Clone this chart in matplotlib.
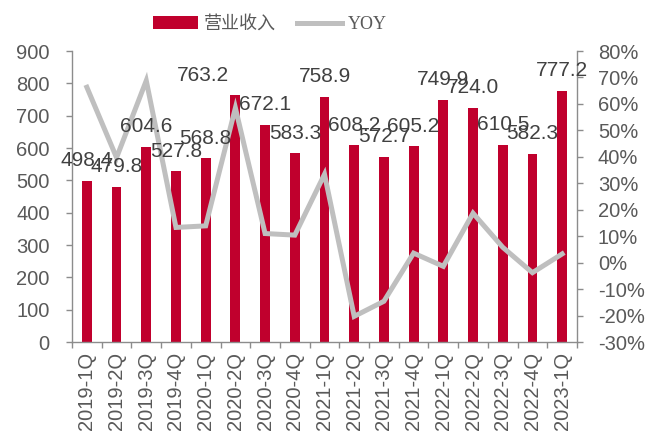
import numpy as np
import matplotlib.pyplot as plt
from matplotlib.patches import Patch
from matplotlib.lines import Line2D

plt.rcParams['font.family'] = ['Liberation Sans', 'DejaVu Sans']

quarters = ['2019-1Q', '2019-2Q', '2019-3Q', '2019-4Q', '2020-1Q', '2020-2Q',
            '2020-3Q', '2020-4Q', '2021-1Q', '2021-2Q', '2021-3Q', '2021-4Q',
            '2022-1Q', '2022-2Q', '2022-3Q', '2022-4Q', '2023-1Q']
revenue = [498.4, 479.8, 604.6, 527.8, 568.8, 763.2, 672.1, 583.3, 758.9,
           608.2, 572.7, 605.2, 749.9, 724.0, 610.5, 582.3, 777.2]
yoy = [66.3, 39.7, 68.8, 13.3, 13.9, 58.5, 11.0, 10.4, 33.4,
       -20.3, -14.6, 3.6, -1.4, 18.7, 5.8, -3.8, 3.3]

BAR_RED = '#C0002D'
LINE_GREY = '#BFBFBF'
AXIS_GREY = '#8C8C8C'
TEXT_GREY = '#595959'

fig = plt.figure(figsize=(6.49, 4.37), dpi=100)
ax = fig.add_axes([72 / 649, 1 - 342 / 437, 505 / 649, 291 / 437])
ax2 = ax.twinx()

x = np.arange(len(quarters))
ax.bar(x, revenue, width=0.33, color=BAR_RED, zorder=2)
ax2.plot(x, yoy, color=LINE_GREY, linewidth=3.6, solid_joinstyle='miter', zorder=3)

ax.set_xlim(-0.5, len(quarters) - 0.5)
ax.set_ylim(0, 900)
ax.set_yticks(np.arange(0, 901, 100))
ax2.set_ylim(-30, 80)
ax2.set_yticks(np.arange(-30, 81, 10))
ax2.set_yticklabels([f'{v}%' for v in range(-30, 81, 10)])

# category labels sit between the boundary tick marks
ax.set_xticks(np.arange(-0.5, len(quarters), 1.0))
ax.set_xticklabels([])
ax.set_xticks(x, minor=True)
ax.set_xticklabels(quarters, minor=True, rotation=90)
ax.tick_params(axis='x', which='minor', length=0, pad=7, labelsize=14.5, labelcolor=TEXT_GREY)
ax.tick_params(axis='x', which='major', length=4, width=1, color=AXIS_GREY, direction='out')
ax.tick_params(axis='y', length=4, width=1, color=AXIS_GREY, pad=12, labelsize=14.5,
               labelcolor=TEXT_GREY)
ax2.tick_params(axis='y', length=4, width=1, color=AXIS_GREY, pad=11, labelsize=14.5,
                labelcolor=TEXT_GREY)

for a in (ax, ax2):
    a.spines['top'].set_visible(False)
    for side in ('left', 'right', 'bottom'):
        a.spines[side].set_color(AXIS_GREY)
        a.spines[side].set_linewidth(1)
ax.spines['right'].set_visible(False)
ax2.spines['left'].set_visible(False)
ax2.spines['bottom'].set_visible(False)

# value labels above each bar; 2020-2Q label nudged left
for i, v in enumerate(revenue):
    dx = -32 if quarters[i] == '2020-2Q' else 0
    ax2.annotate(f'{v:.1f}', xy=(i, v), xycoords=ax.transData,
                 xytext=(dx, 20), textcoords='offset pixels',
                 ha='center', va='center', fontsize=15, color='#404040', zorder=5)

handles = [Patch(facecolor=BAR_RED, edgecolor='none'),
           Line2D([], [], color=LINE_GREY, linewidth=3.6)]
leg = fig.legend(handles, ['营业收入', 'YOY'], loc='center', bbox_to_anchor=(0.416, 0.945),
                 ncol=2, frameon=False, handlelength=2.5, handleheight=0.7,
                 columnspacing=1.2, handletextpad=0.3, fontsize=13)
leg.get_texts()[0].set_family(['Noto Sans CJK SC', 'DejaVu Sans'])
leg.get_texts()[1].set_family(['Liberation Serif', 'DejaVu Serif'])
for t in leg.get_texts():
    t.set_color(TEXT_GREY)

fig.savefig('out.png', dpi=100)
